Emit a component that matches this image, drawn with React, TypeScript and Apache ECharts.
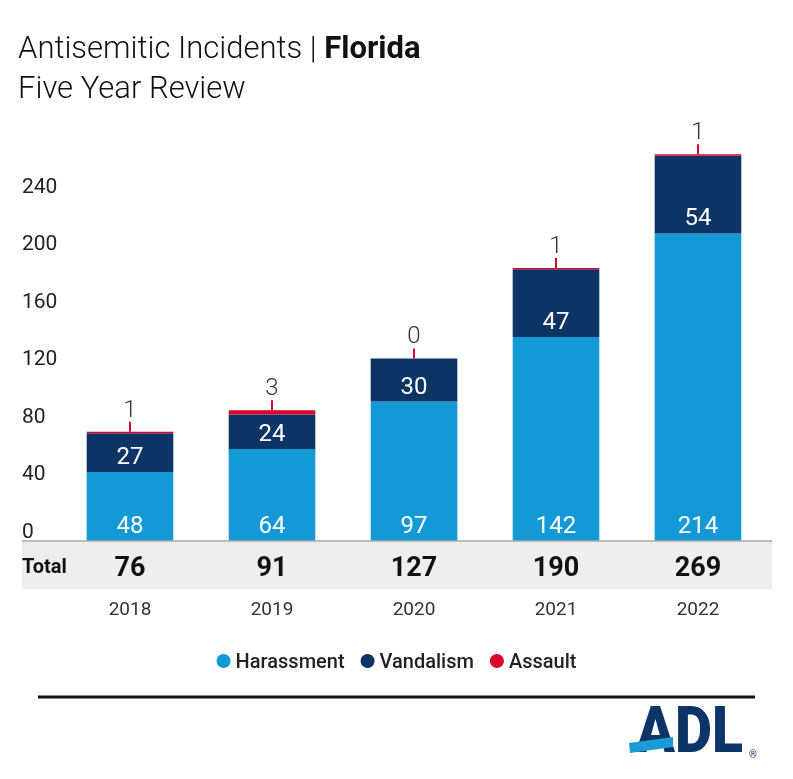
import React, { useEffect, useRef } from "react";
import * as echarts from "echarts";

const years = ["2018", "2019", "2020", "2021", "2022"];
const harassment = [48, 64, 97, 142, 214];
const vandalism = [27, 24, 30, 47, 54];
const assault = [1, 3, 0, 1, 1];
const totals = [76, 91, 127, 190, 269];
const yTicks = [0, 40, 80, 120, 160, 200, 240];

const C_HAR = "#139ad6";
const C_VAN = "#0c3464";
const C_ASS = "#d8062c";

export default function App() {
  const ref = useRef<HTMLDivElement>(null);
  useEffect(() => {
    if (!ref.current) return;
    const chart = echarts.init(ref.current, null, { renderer: "svg" });
    const stackTop = years.map((_, i) => [i, harassment[i] + vandalism[i] + assault[i], assault[i]]);
    const insideLabel = {
      show: true,
      position: "insideBottom",
      distance: 4,
      color: "#ffffff",
      fontSize: 24,
      fontFamily: "Roboto",
    };
    chart.setOption({
      animation: false,
      grid: { left: 59, right: 24, top: 138.5, bottom: 238 },
      legend: {
        top: 646,
        left: "center",
        icon: "circle",
        itemWidth: 14,
        itemHeight: 14,
        itemGap: 16,
        data: ["Harassment", "Vandalism", "Assault"],
        textStyle: { fontSize: 20, fontWeight: 500, color: "#222", fontFamily: "Roboto" },
      },
      xAxis: {
        type: "category",
        data: years,
        axisLine: { show: false },
        axisTick: { show: false },
        axisLabel: {
          margin: 6,
          verticalAlign: "top",
          formatter: (v: string, i: number) => `{t|${totals[i]}}\n{y|${v}}`,
          rich: {
            t: { fontSize: 27, fontWeight: "bold", color: "#111", lineHeight: 40, fontFamily: "Roboto" },
            y: { fontSize: 19, color: "#333", lineHeight: 42, fontFamily: "Roboto" },
          },
        },
      },
      yAxis: {
        type: "value",
        min: 0,
        max: 280,
        interval: 40,
        splitLine: { show: false },
        axisLine: { show: false },
        axisTick: { show: false },
        axisLabel: {
          align: "left",
          verticalAlign: "bottom",
          margin: 37,
          fontSize: 21,
          color: "#222",
          fontFamily: "Roboto",
          formatter: (v: number) => (yTicks.indexOf(v) >= 0 ? String(v) : ""),
        },
      },
      series: [
        {
          name: "Harassment",
          type: "bar",
          stack: "s",
          barWidth: "61%",
          data: harassment,
          itemStyle: { color: C_HAR },
          label: insideLabel,
        },
        {
          name: "Vandalism",
          type: "bar",
          stack: "s",
          data: vandalism,
          itemStyle: { color: C_VAN },
          label: insideLabel,
        },
        {
          name: "Assault",
          type: "bar",
          stack: "s",
          data: assault,
          itemStyle: { color: C_ASS },
        },
        {
          name: "AssaultLabel",
          type: "custom",
          data: stackTop,
          z: 5,
          renderItem: (params: any, api: any) => {
            const p = api.coord([api.value(0), api.value(1)]);
            return {
              type: "group",
              children: [
                {
                  type: "line",
                  shape: { x1: p[0], y1: p[1], x2: p[0], y2: p[1] - 10 },
                  style: { stroke: C_ASS, lineWidth: 2 },
                },
                {
                  type: "text",
                  x: p[0],
                  y: p[1] - 11,
                  style: {
                    text: String(api.value(2)),
                    align: "center",
                    verticalAlign: "bottom",
                    fontSize: 24,
                    fontWeight: 300,
                    fontFamily: "Roboto",
                    fill: "#333",
                  },
                },
              ],
            };
          },
        },
      ],
      graphic: [
        { type: "rect", z: -10, shape: { x: 22, y: 541, width: 750, height: 48 }, style: { fill: "#eeeeee" } },
        { type: "line", z: 10, shape: { x1: 22, y1: 541, x2: 772, y2: 541 }, style: { stroke: "#aaaaaa", lineWidth: 1.5 } },
        {
          type: "text",
          x: 22,
          y: 566,
          style: { text: "Total", fontSize: 20, fontWeight: "bold", fontFamily: "Roboto", fill: "#111", verticalAlign: "middle" },
        },
        {
          type: "text",
          x: 18,
          y: 47,
          style: {
            text: "{l|Antisemitic Incidents | }{b|Florida}",
            verticalAlign: "middle",
            rich: {
              l: { fontSize: 31, fontWeight: 300, fontFamily: "Roboto", fill: "#111" },
              b: { fontSize: 31, fontWeight: "bold", fontFamily: "Roboto", fill: "#111" },
            },
          },
        },
        {
          type: "text",
          x: 18,
          y: 87,
          style: { text: "Five Year Review", fontSize: 31, fontWeight: 300, fontFamily: "Roboto", fill: "#111", verticalAlign: "middle" },
        },
        { type: "line", shape: { x1: 38, y1: 697, x2: 755, y2: 697 }, style: { stroke: "#111", lineWidth: 3 } },
        {
          type: "text",
          x: 636,
          y: 762,
          scaleX: 0.88,
          style: { text: "ADL", fontSize: 65, fontWeight: 900, fontFamily: "Roboto", fill: "#0d3466", verticalAlign: "bottom" },
        },
        {
          type: "polygon",
          z: 20,
          shape: { points: [[629, 743], [673, 737], [673, 747], [630, 753]] },
          style: { fill: "#1a9bd7" },
        },
        {
          type: "text",
          x: 749,
          y: 759,
          style: { text: "®", fontSize: 10, fontFamily: "Roboto", fill: "#0d3466", verticalAlign: "bottom" },
        },
      ],
    });
    return () => chart.dispose();
  }, []);
  return <div ref={ref} style={{ position: "fixed", left: 0, top: 0, width: 793, height: 779 }} />;
}
